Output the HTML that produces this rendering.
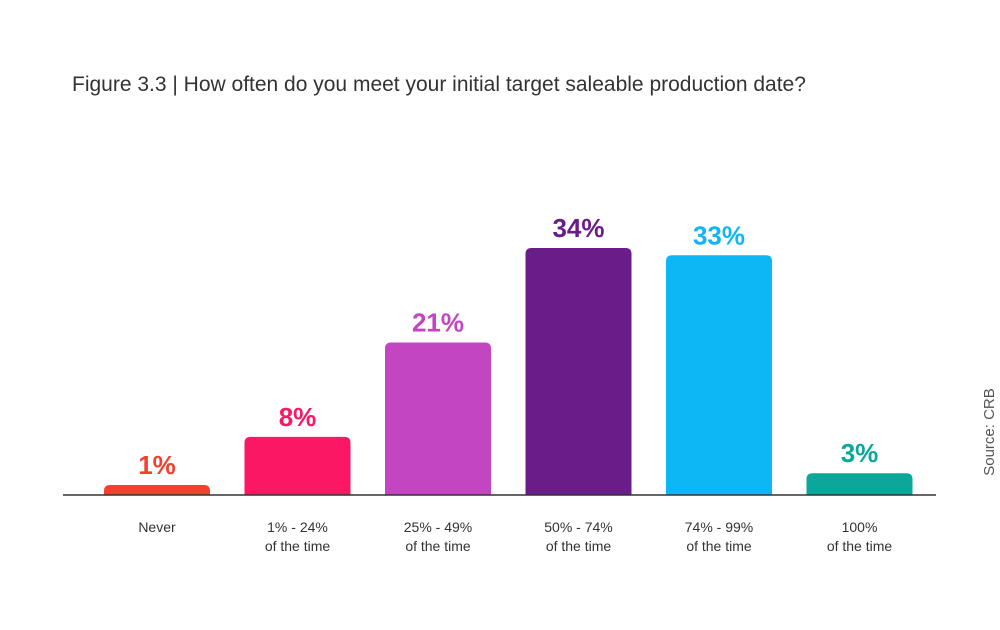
<!DOCTYPE html>
<html><head><meta charset="utf-8"><style>
body{margin:0;background:#fff;width:1000px;height:625px;overflow:hidden;font-family:"Liberation Sans",sans-serif}
</style></head><body>
<svg width="1000" height="625">
<text x="72" y="91" font-size="21" fill="#333">Figure 3.3 | How often do you meet your initial target saleable production date?</text>
<text transform="translate(994,432) rotate(-90)" text-anchor="middle" font-size="15" fill="#555">Source: CRB</text>
<g id="bars"></g>
<line x1="63" x2="936" y1="495" y2="495" stroke="#333" stroke-width="1.5"/>
</svg>
<script>
const categories=[["Never"],["1% - 24%","of the time"],["25% - 49%","of the time"],["50% - 74%","of the time"],["74% - 99%","of the time"],["100%","of the time"]];
const values=[1,8,21,34,33,3];
const valueLabels=["1%","8%","21%","34%","33%","3%"];
const colors=["#f2412f","#fb1763","#c445c2","#6a1d88","#0db7f5","#0aa79a"];
const ns="http://www.w3.org/2000/svg";
const g=document.getElementById("bars");
const base=495,scale=247/34,x0=104,step=140.5,bw=106;
function xPos(i){return x0+i*step;}
function yH(v){return Math.max(v*scale,10);}
values.forEach((v,i)=>{
 const h=yH(v),x=xPos(i),y=base-h,r=6;
 const p=document.createElementNS(ns,"path");
 p.setAttribute("d",`M${x},${base}V${y+r}Q${x},${y} ${x+r},${y}H${x+bw-r}Q${x+bw},${y} ${x+bw},${y+r}V${base}Z`);
 p.setAttribute("fill",colors[i]);
 
 
 g.appendChild(p);
 const t=document.createElementNS(ns,"text");
 t.setAttribute("x",x+bw/2);t.setAttribute("y",y-11);
 t.setAttribute("text-anchor","middle");t.setAttribute("font-size","26");t.setAttribute("font-weight","bold");
 t.setAttribute("fill",colors[i]);t.textContent=valueLabels[i];
 
 
 g.appendChild(t);
 categories[i].forEach((line,j)=>{
  const c=document.createElementNS(ns,"text");
  c.setAttribute("x",x+bw/2);c.setAttribute("y",532+j*19);
  c.setAttribute("text-anchor","middle");c.setAttribute("font-size","14");c.setAttribute("fill","#333");
  c.textContent=line;
  
  
  g.appendChild(c);
 });
});
</script>
</body></html>
